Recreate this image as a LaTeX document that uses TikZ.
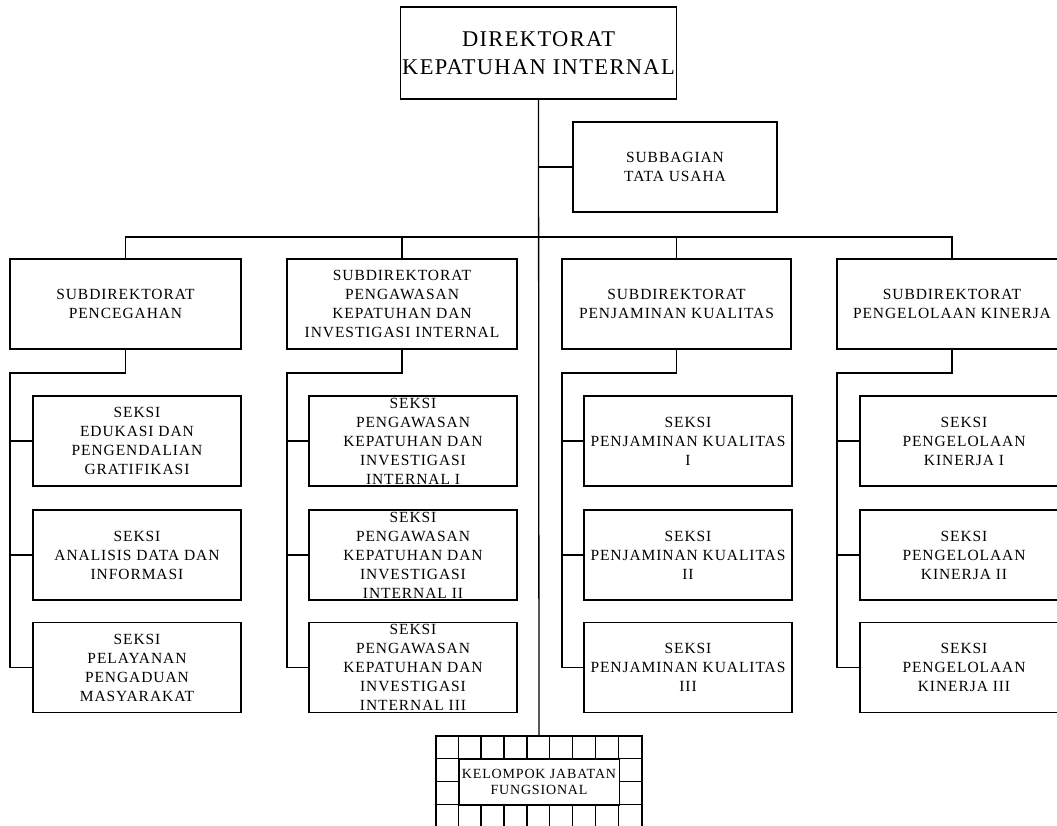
\documentclass[tikz,border=0pt]{standalone}
\usepackage{fontspec}
\usetikzlibrary{calc}
\setmainfont{Liberation Serif}[LetterSpace=6]
\begin{document}
\begin{tikzpicture}[x=1pt,y=-1pt,
  every node/.style={inner sep=0pt, align=center},
  unit/.style={draw, line width=1.3pt, fill=white},
  headbox/.style={unit, minimum width=276pt, minimum height=92pt,
    font=\fontsize{22.5}{28}\selectfont},
  subbox/.style={unit, minimum width=230pt, minimum height=90pt,
    font=\fontsize{15.5}{19}\selectfont},
  seksibox/.style={unit, minimum width=208pt, minimum height=90pt,
    font=\fontsize{15.5}{19}\selectfont},
  link/.style={line width=1.3pt},
]
\useasboundingbox (0,0) rectangle (1057,826);
\clip (0,0) rectangle (1057,826);

% director and secretariat
\node[headbox] (dir) at (538.5,53) {DIREKTORAT\\KEPATUHAN INTERNAL};
\node[subbox, minimum width=204pt] (tu) at (675,167) {SUBBAGIAN\\TATA USAHA};

% sub-directorates
\node[subbox, minimum width=231pt] (s1) at (125.5,304) {SUBDIREKTORAT\\PENCEGAHAN};
\node[subbox] (s2) at (402,304) {SUBDIREKTORAT\\PENGAWASAN\\KEPATUHAN DAN\\INVESTIGASI INTERNAL};
\node[subbox, minimum width=229pt] (s3) at (676.5,304) {SUBDIREKTORAT\\PENJAMINAN KUALITAS};
\node[subbox] (s4) at (952,304) {SUBDIREKTORAT\\PENGELOLAAN KINERJA};

% sections, column 1
\node[seksibox] (k11) at (137,441) {SEKSI\\EDUKASI DAN\\PENGENDALIAN\\GRATIFIKASI};
\node[seksibox] (k12) at (137,555) {SEKSI\\ANALISIS DATA DAN\\INFORMASI};
\node[seksibox] (k13) at (137,667.5) {SEKSI\\PELAYANAN\\PENGADUAN\\MASYARAKAT};
% sections, column 2
\node[seksibox] (k21) at (413,441) {SEKSI\\PENGAWASAN\\KEPATUHAN DAN\\INVESTIGASI\\INTERNAL I};
\node[seksibox] (k22) at (413,555) {SEKSI\\PENGAWASAN\\KEPATUHAN DAN\\INVESTIGASI\\INTERNAL II};
\node[seksibox] (k23) at (413,667.5) {SEKSI\\PENGAWASAN\\KEPATUHAN DAN\\INVESTIGASI\\INTERNAL III};
% sections, column 3
\node[seksibox] (k31) at (688,441) {SEKSI\\PENJAMINAN KUALITAS\\I};
\node[seksibox] (k32) at (688,555) {SEKSI\\PENJAMINAN KUALITAS\\II};
\node[seksibox] (k33) at (688,667.5) {SEKSI\\PENJAMINAN KUALITAS\\III};
% sections, column 4
\node[seksibox] (k41) at (964,441) {SEKSI\\PENGELOLAAN\\KINERJA I};
\node[seksibox] (k42) at (964,555) {SEKSI\\PENGELOLAAN\\KINERJA II};
\node[seksibox] (k43) at (964,667.5) {SEKSI\\PENGELOLAAN\\KINERJA III};

% functional group: a grid with a label cell in its middle
\node[draw, line width=1.3pt, minimum width=206pt, minimum height=100pt] (kel) at (539,786) {};
\foreach \i in {1,...,8}
  \draw[link] ($(kel.north west)+(\i*22.89,0)$) -- ++(0,100);
\foreach \j in {1,...,4}
  \draw[link] ($(kel.north west)+(0,\j*23)$) -- ++(206,0);
\node[draw, line width=1.3pt, fill=white, minimum width=160.3pt, minimum height=46pt,
  font=\fontsize{14}{16}\selectfont] (kjf) at (539,782) {KELOMPOK JABATAN\\FUNGSIONAL};

% main trunk and staff line
\coordinate (bus) at (539,237);
\draw[link] (dir.south) -- (kel.north);
\draw[link] (tu.west) -- (tu.west -| dir.south);

% bus to the sub-directorates
\draw[link] (s1.north) |- (bus) -| (s4.north);
\draw[link] (s2.north) -- (s2.north |- bus);
\draw[link] (s3.north) -- (s3.north |- bus);

% spines down to the sections
\coordinate (j1) at (10,373);
\coordinate (j2) at (287,373);
\coordinate (j3) at (562,373);
\coordinate (j4) at (837,373);
\foreach \c in {1,2,3,4} {
  \draw[link] (s\c.south) |- (j\c) |- (k\c3.west);
  \draw[link] (k\c1.west) -- (k\c1.west -| j\c);
  \draw[link] (k\c2.west) -- (k\c2.west -| j\c);
}
\end{tikzpicture}
\end{document}
